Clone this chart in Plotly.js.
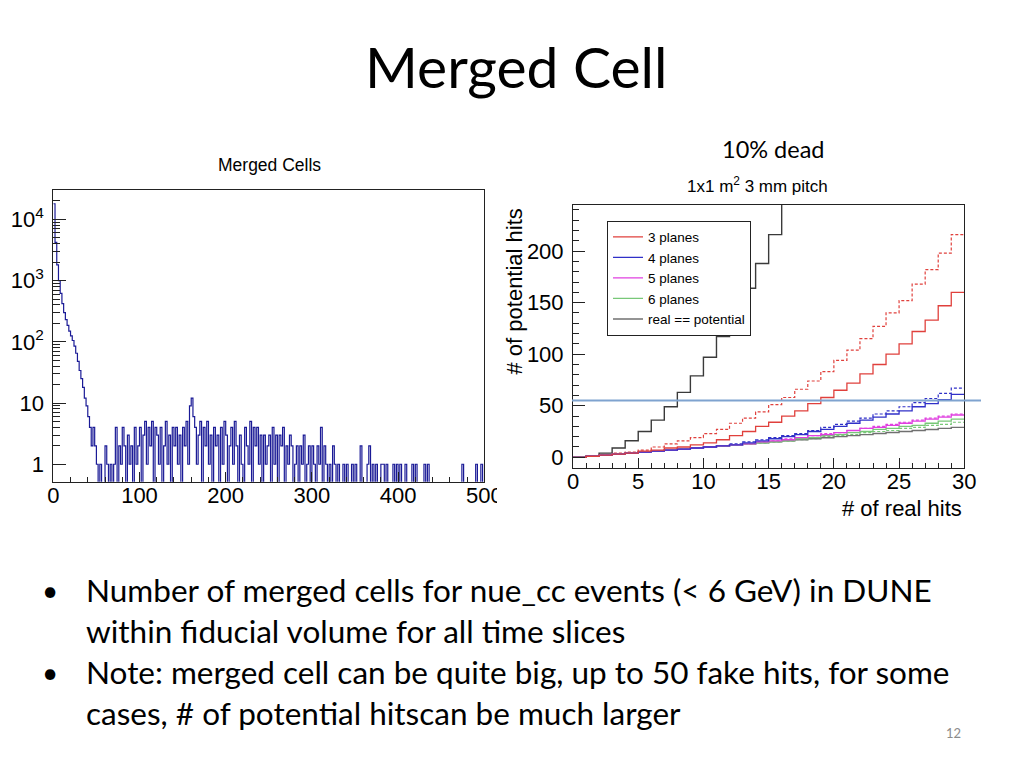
<!DOCTYPE html>
<html>
<head>
<meta charset="utf-8">
<script src="https://cdn.plot.ly/plotly-3.0.1.min.js"></script>
<style>
  html, body { margin: 0; padding: 0; background: #fff; }
  #chart { width: 1024px; height: 768px; }
</style>
</head>
<body>
<div id="chart"></div>
<script>
// ---------------- DATA ----------------
// Left: "Merged Cells" histogram, bins of width 2 from 0 to 500
const mergedBinWidth = 2;
const mergedCounts = [
  18000, 4200, 1800, 1000, 620, 420, 300, 230, 185, 150, 125, 105, 85, 65, 48, 34, 25, 18, 12, 9, 6, 4, 2, 4, 2,
  1, 0, 1, 0, 0, 2, 1, 0, 1, 0, 1, 4, 0, 2, 1, 4, 2, 0, 3, 1, 2, 0, 4, 1, 2,
  4, 0, 3, 5, 1, 4, 2, 5, 0, 4, 3, 1, 4, 0, 2, 5, 1, 3, 0, 4, 2, 4, 1, 3, 0,
  4, 2, 5, 1, 9, 12, 6, 4, 1, 3, 5, 0, 4, 2, 5, 1, 3, 0, 4, 2, 3, 0, 4, 1, 5,
  3, 0, 2, 4, 1, 5, 2, 0, 3, 1, 0, 4, 2, 1, 5, 0, 4, 2, 4, 1, 3, 0, 3, 1, 2,
  3, 0, 4, 1, 3, 0, 3, 2, 4, 0, 2, 1, 3, 2, 0, 1, 2, 0, 2, 1, 3, 0, 1, 2, 0,
  2, 1, 0, 2, 1, 4, 0, 2, 1, 0, 1, 0, 2, 1, 0, 1, 0, 0, 1, 0, 1, 0, 0, 1, 0,
  1, 0, 0, 2, 0, 0, 0, 1, 2, 0, 1, 0, 1, 0, 0, 1, 1, 0, 1, 0, 0, 0, 1, 0, 1,
  0, 1, 0, 0, 1, 0, 0, 0, 1, 0, 1, 0, 0, 0, 0, 1, 0, 1, 0, 0, 0, 0, 0, 0, 0,
  0, 0, 0, 0, 0, 0, 0, 0, 0, 0, 0, 0, 1, 0, 0, 0, 0, 0, 0, 0, 1, 0, 0, 1, 0
];
const leftYTickVals = [1, 10, 100, 1000, 10000];
const leftYTickText = ['1', '10', '10<sup>2</sup>', '10<sup>3</sup>', '10<sup>4</sup>'];
const leftXTickVals = [0, 100, 200, 300, 400, 500];

// Right: potential hits vs real hits, unit bins from 0 to 30
const steepLine     = [0, 1, 4, 9, 16, 25, 36, 49, 63, 79, 97, 117, 140, 164, 188, 216, 250, 285];
const planes3       = [0, 1, 2, 3, 4, 6, 7, 9, 10, 12, 14, 17, 21, 25, 30, 34, 40, 45, 52, 58, 65, 72, 81, 90, 100, 110, 122, 133, 147, 160];
const planes3Dashed = [0, 1, 2, 4, 5, 7, 10, 13, 16, 19, 23, 27, 33, 38, 44, 51, 58, 66, 74, 83, 94, 104, 115, 127, 140, 152, 168, 182, 198, 216];
const planes4       = [0, 1, 2, 3, 4, 5, 6, 7, 8, 9, 10, 11, 12, 14, 16, 18, 20, 22, 25, 27, 30, 33, 36, 39, 42, 45, 49, 52, 56, 61];
const planes4Dashed = [0, 1, 2, 3, 4, 5, 6, 7, 8, 9, 10, 11, 13, 15, 17, 19, 21, 23, 26, 29, 32, 35, 38, 42, 45, 49, 53, 57, 62, 67];
const planes5       = [0, 1, 2, 3, 4, 5, 6, 7, 8, 9, 10, 11, 12, 13, 15, 16, 17, 19, 21, 22, 24, 26, 28, 29, 31, 33, 35, 37, 39, 41];
const planes5Dashed = [0, 1, 2, 3, 4, 5, 6, 7, 8, 9, 10, 11, 12, 13, 15, 16, 18, 19, 21, 23, 24, 26, 28, 30, 32, 34, 36, 38, 40, 42];
const planes6       = [0, 1, 2, 3, 4, 5, 6, 7, 8, 9, 10, 11, 12, 13, 14, 15, 16, 18, 19, 21, 22, 24, 25, 27, 28, 30, 31, 33, 35, 37];
const planes6Dashed = [0, 1, 2, 3, 4, 5, 6, 7, 8, 9, 10, 11, 12, 13, 14, 15, 16, 17, 18, 20, 21, 22, 24, 25, 26, 28, 29, 31, 32, 34];
const realEqPotential = [0, 1, 2, 3, 4, 5, 6, 7, 8, 9, 10, 11, 12, 13, 14, 15, 16, 17, 18, 19, 20, 21, 22, 23, 24, 25, 26, 27, 28, 29];
const thresholdLevel = 55;
const rightXTickVals = [0, 5, 10, 15, 20, 25, 30];
const rightYTickVals = [0, 50, 100, 150, 200];

const slideTitle = 'Merged Cell';
const deadLabel = '10% dead';
const leftTitle = 'Merged Cells';
const rightTitle = '1x1 m<sup>2</sup> 3 mm pitch';
const rightYTitle = '# of potential hits';
const rightXTitle = '# of real hits';
const bulletLines = [
  { bullet: true,  text: 'Number of merged cells for nue_cc events (&lt; 6 GeV) in DUNE' },
  { bullet: false, text: 'within fiducial volume for all time slices' },
  { bullet: true,  text: 'Note: merged cell can be quite big, up to 50 fake hits, for some' },
  { bullet: false, text: 'cases, # of potential hitscan be much larger' }
];
const pageNumber = '12';

// ---------------- HELPERS ----------------
const W = 1024, H = 768;
const px = v => v / W;
const py = v => 1 - v / H;
const ROOTFONT = 'Liberation Sans, Arial, Helvetica, sans-serif';
const SLIDEFONT = 'Lato, Carlito, Calibri, sans-serif';

function stepTrace(vals, color, dash, name, showlegend, width) {
  const x = vals.map((v, i) => i);
  x.push(vals.length);
  const y = vals.slice();
  y.push(vals[vals.length - 1]);
  return {
    type: 'scatter', mode: 'lines', x: x, y: y, name: name,
    showlegend: showlegend, xaxis: 'x2', yaxis: 'y2', hoverinfo: 'skip',
    line: { shape: 'hv', color: color, width: width || 1.3, dash: dash || 'solid' }
  };
}

// left histogram as step line; empty bins drop below the frame like ROOT
const histX = mergedCounts.map((c, i) => i * mergedBinWidth);
histX.push(mergedCounts.length * mergedBinWidth);
const histY = mergedCounts.map(c => (c > 0 ? c : 0.01));
histY.push(histY[histY.length - 1]);

const leftMinor = [];
for (let d = 0; d < 5; d++) for (let k = 2; k <= 9; k++) leftMinor.push(k * Math.pow(10, d));

const traces = [
  {
    type: 'scatter', mode: 'lines', x: histX, y: histY, showlegend: false,
    xaxis: 'x', yaxis: 'y', hoverinfo: 'skip',
    line: { shape: 'hv', color: '#1a1a96', width: 1.2 }
  },
  stepTrace(steepLine, '#3a3a3a', 'solid', 'steep', false, 1.4),
  stepTrace(planes3Dashed, '#e0403c', '3px,2px', '3 planes dashed', false, 1.2),
  stepTrace(planes4Dashed, '#3030c8', '3px,2px', '4 planes dashed', false, 1.2),
  stepTrace(planes5Dashed, '#e040e0', '3px,2px', '5 planes dashed', false, 1.2),
  stepTrace(planes6Dashed, '#78c878', '3px,2px', '6 planes dashed', false, 1.2),
  stepTrace(realEqPotential, '#707070', 'solid', 'real == potential', true, 1.4),
  stepTrace(planes6, '#78c878', 'solid', '6 planes', true, 1.3),
  stepTrace(planes5, '#e040e0', 'solid', '5 planes', true, 1.3),
  stepTrace(planes4, '#3030c8', 'solid', '4 planes', true, 1.3),
  stepTrace(planes3, '#e0403c', 'solid', '3 planes', true, 1.3)
];

const axisCommon = {
  showline: true, linecolor: '#222', linewidth: 1, mirror: true,
  ticks: 'inside', tickcolor: '#222', tickwidth: 1,
  showgrid: false, zeroline: false, fixedrange: true,
  tickfont: { family: ROOTFONT, size: 22, color: '#000' }
};

const layout = {
  width: W, height: H,
  margin: { l: 0, r: 0, t: 0, b: 0, pad: 0 },
  paper_bgcolor: '#fff', plot_bgcolor: '#fff',
  showlegend: true,
  legend: {
    x: px(607), y: py(220.5), xanchor: 'left', yanchor: 'top',
    bgcolor: '#fff', bordercolor: '#222', borderwidth: 1,
    font: { family: ROOTFONT, size: 13.5, color: '#000' },
    traceorder: 'reversed', itemwidth: 30, tracegroupgap: 0
  },
  xaxis: Object.assign({}, axisCommon, {
    domain: [px(53.3), px(484.3)], range: [0, 500], anchor: 'y',
    tickmode: 'array', tickvals: leftXTickVals, ticklen: 10,
    ticklabelstandoff: -6,
    minor: { ticks: 'inside', ticklen: 5, dtick: 20, tick0: 0, tickcolor: '#222', showgrid: false }
  }),
  yaxis: Object.assign({}, axisCommon, {
    type: 'log', domain: [py(481.7), py(190)], range: [-0.285, 4.48], anchor: 'x',
    tickmode: 'array', tickvals: leftYTickVals, ticktext: leftYTickText, ticklen: 13,
    ticklabelstandoff: 4,
    minor: { ticks: 'inside', ticklen: 7, tickmode: 'array', tickvals: leftMinor, tickcolor: '#222', showgrid: false }
  }),
  xaxis2: Object.assign({}, axisCommon, {
    domain: [px(573), px(964.3)], range: [0, 30], anchor: 'y2',
    tickmode: 'array', tickvals: rightXTickVals, ticklen: 10,
    ticklabelstandoff: -6,
    minor: { ticks: 'inside', ticklen: 5, dtick: 1, tick0: 0, tickcolor: '#222', showgrid: false }
  }),
  yaxis2: Object.assign({}, axisCommon, {
    domain: [py(467.7), py(205)], range: [-10.1, 244.7], anchor: 'x2',
    tickmode: 'array', tickvals: rightYTickVals, ticklen: 12,
    ticklabelstandoff: 4,
    minor: { ticks: 'inside', ticklen: 6, dtick: 10, tick0: 0, tickcolor: '#222', showgrid: false }
  }),
  shapes: [
    // horizontal marker line drawn across the right plot
    { type: 'line', xref: 'paper', yref: 'y2', x0: px(572), x1: px(981), y0: thresholdLevel, y1: thresholdLevel,
      line: { color: '#7fa3cf', width: 2 }, layer: 'above' },
    // pad edge cropping the last tick label of the left plot
    { type: 'rect', xref: 'paper', yref: 'paper', x0: px(497), x1: px(520), y0: py(508), y1: py(485),
      fillcolor: '#fff', line: { width: 0 }, layer: 'above' }
  ],
  annotations: [
    { text: slideTitle, x: px(516), y: py(66), xref: 'paper', yref: 'paper', xanchor: 'center', yanchor: 'middle',
      showarrow: false, font: { family: SLIDEFONT, size: 57, color: '#000' } },
    { text: deadLabel, x: px(773), y: py(149), xref: 'paper', yref: 'paper', xanchor: 'center', yanchor: 'middle',
      showarrow: false, font: { family: SLIDEFONT, size: 23.5, color: '#000' } },
    { text: leftTitle, x: px(269), y: py(165), xref: 'paper', yref: 'paper', xanchor: 'center', yanchor: 'middle',
      showarrow: false, font: { family: ROOTFONT, size: 17.5, color: '#000' } },
    { text: rightTitle, x: px(757), y: py(185), xref: 'paper', yref: 'paper', xanchor: 'center', yanchor: 'middle',
      showarrow: false, font: { family: ROOTFONT, size: 17, color: '#000' } },
    { text: rightYTitle, x: px(514), y: py(291.5), xref: 'paper', yref: 'paper', xanchor: 'center', yanchor: 'middle',
      textangle: -90, showarrow: false, font: { family: ROOTFONT, size: 22, color: '#000' } },
    { text: rightXTitle, x: px(964), y: py(508.5), xref: 'paper', yref: 'paper', xanchor: 'right', yanchor: 'middle',
      showarrow: false, font: { family: ROOTFONT, size: 22, color: '#000' } },
    { text: pageNumber, x: px(953), y: py(733), xref: 'paper', yref: 'paper', xanchor: 'center', yanchor: 'middle',
      showarrow: false, font: { family: SLIDEFONT, size: 13, color: '#8c8c8c' } }
  ]
};

const lineYs = [590, 631, 672, 713];
bulletLines.forEach((ln, i) => {
  layout.annotations.push({
    text: ln.text, x: px(84), y: py(lineYs[i]), xref: 'paper', yref: 'paper', xanchor: 'left', yanchor: 'middle',
    showarrow: false, font: { family: SLIDEFONT, size: 31.5, color: '#000' }
  });
  if (ln.bullet) {
    layout.annotations.push({
      text: '•', x: px(50), y: py(lineYs[i]), xref: 'paper', yref: 'paper', xanchor: 'center', yanchor: 'middle',
      showarrow: false, font: { family: SLIDEFONT, size: 28, color: '#000' }
    });
  }
});

Plotly.newPlot('chart', traces, layout, { staticPlot: true, displayModeBar: false });
</script>
</body>
</html>
